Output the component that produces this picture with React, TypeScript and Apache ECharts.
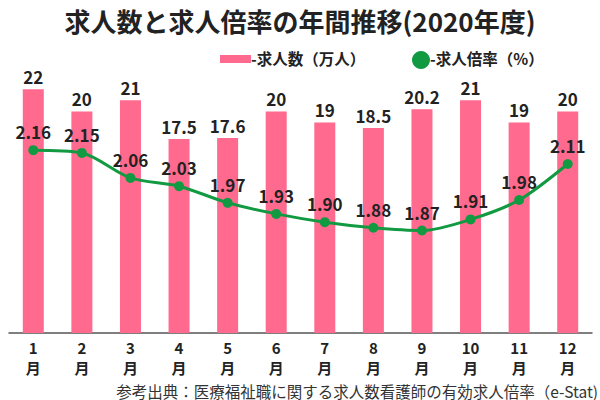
import React, { useEffect, useRef } from "react";
import * as echarts from "echarts";

const months = ["1\n月", "2\n月", "3\n月", "4\n月", "5\n月", "6\n月", "7\n月", "8\n月", "9\n月", "10\n月", "11\n月", "12\n月"];
const jobCounts = [22, 20, 21, 17.5, 17.6, 20, 19, 18.5, 20.2, 21, 19, 20];
const jobRatios = [2.16, 2.15, 2.06, 2.03, 1.97, 1.93, 1.9, 1.88, 1.87, 1.91, 1.98, 2.11];
const ratioLabels = ["2.16", "2.15", "2.06", "2.03", "1.97", "1.93", "1.90", "1.88", "1.87", "1.91", "1.98", "2.11"];

const FONT = "'Noto Sans CJK JP', 'Noto Sans', sans-serif";
const PINK = "#ff6a8e";
const GREEN = "#129a42";

export default function App() {
  const ref = useRef<HTMLDivElement>(null);
  useEffect(() => {
    document.body.style.margin = "0";
    const chart = echarts.init(ref.current!, null, { renderer: "svg" });
    chart.setOption({
      animation: false,
      textStyle: { fontFamily: FONT },
      title: {
        text: "求人数と求人倍率の年間推移(2020年度)",
        left: "center",
        top: 2,
        textStyle: { fontFamily: FONT, fontSize: 26, fontWeight: "bold", color: "#222" },
      },
      graphic: [
        { type: "rect", left: 220, top: 55, shape: { width: 31, height: 8 }, style: { fill: PINK } },
        { type: "text", left: 251, top: 50, style: { text: "-求人数（万人）", font: `bold 15.5px ${FONT}`, fill: "#222" } },
        { type: "circle", left: 412, top: 51, shape: { r: 9 }, style: { fill: GREEN } },
        { type: "text", left: 430, top: 50, style: { text: "-求人倍率（%）", font: `bold 15.5px ${FONT}`, fill: "#222" } },
        {
          type: "text",
          right: 2,
          top: 382,
          style: {
            text: "参考出典：医療福祉職に関する求人数看護師の有効求人倍率（e-Stat)",
            font: `15.5px ${FONT}`,
            lineHeight: 17,
            fill: "#333",
          },
        },
      ],
      grid: { left: 9, right: 8, top: 56, bottom: 67 },
      xAxis: {
        type: "category",
        data: months,
        axisTick: { show: false },
        axisLine: { lineStyle: { color: "#555", width: 1.5 } },
        axisLabel: { fontFamily: FONT, fontSize: 15, fontWeight: "bold", color: "#222", lineHeight: 20, margin: 4 },
      },
      yAxis: [
        { type: "value", min: 0, max: 25, show: false, splitLine: { show: false } },
        { type: "value", min: 1.5, max: 2.5, show: false, splitLine: { show: false } },
      ],
      series: [
        {
          type: "bar",
          data: jobCounts,
          barWidth: 21,
          itemStyle: { color: PINK },
          label: { show: true, position: "top", distance: 4, fontFamily: FONT, fontSize: 17, fontWeight: "bold", color: "#222" },
        },
        {
          type: "line",
          yAxisIndex: 1,
          data: jobRatios,
          smooth: 0.3,
          symbol: "circle",
          symbolSize: 10,
          lineStyle: { color: GREEN, width: 3 },
          itemStyle: { color: GREEN },
          label: {
            show: true,
            position: "top",
            distance: 5,
            fontFamily: FONT,
            fontSize: 17,
            fontWeight: "bold",
            color: "#222",
            formatter: (p: any) => ratioLabels[p.dataIndex],
          },
        },
      ],
    });
    return () => chart.dispose();
  }, []);
  return <div ref={ref} style={{ width: 600, height: 400 }} />;
}
